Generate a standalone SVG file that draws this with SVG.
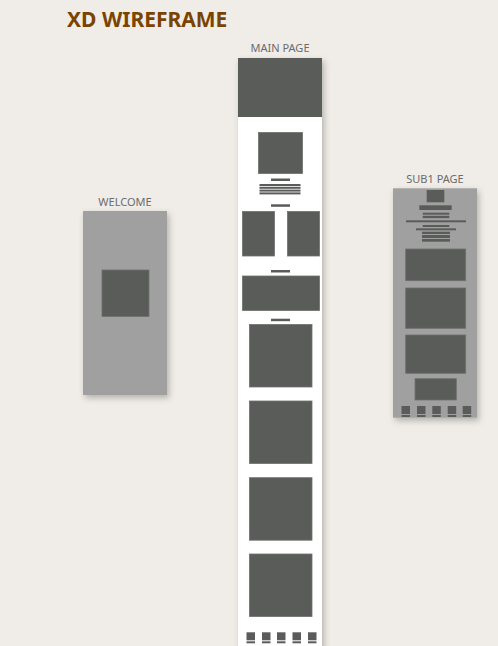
<svg xmlns="http://www.w3.org/2000/svg" width="498" height="646" viewBox="0 0 498 646">
<style>
.bg{fill:#f0ece7}
.lbl{font-family:"Noto Sans","DejaVu Sans",sans-serif;font-size:11px;fill:#6b6b6b;text-anchor:middle}
.title{font-family:"Noto Sans","DejaVu Sans",sans-serif;font-size:21px;font-weight:bold;fill:#7a4300}
.dk{fill:#5a5c5a;stroke:#6e706e;stroke-width:0.8}
.dkf{fill:#5a5c5a}
.gray{fill:#a0a0a0}
.white{fill:#ffffff}
</style>
<defs>
<filter id="sh" x="-20%" y="-10%" width="150%" height="130%">
<feDropShadow dx="2" dy="3" stdDeviation="3" flood-color="#000" flood-opacity="0.25"/>
</filter>
<g id="icon">
<rect x="0" y="0" width="8.5" height="8" class="dkf"/>
<rect x="0" y="9" width="8.5" height="2" class="dkf"/>
</g>
</defs>
<rect class="bg" x="0" y="0" width="498" height="646"/>
<text class="title" x="67" y="27">XD WIREFRAME</text>

<g id="welcome">
<text class="lbl" x="125" y="206">WELCOME</text>
<rect class="gray" x="83" y="211" width="84" height="184" filter="url(#sh)"/>
<rect class="dk" x="102" y="270" width="47" height="46.5"/>
</g>

<g id="main-page">
<text class="lbl" x="280" y="52">MAIN PAGE</text>
<rect class="white" x="238" y="58" width="84" height="600" filter="url(#sh)"/>
<rect class="dkf" x="238" y="58" width="84" height="59"/>
<rect class="dk" x="258.5" y="132.5" width="44" height="41"/>
<rect class="dkf" x="271" y="178.5" width="19" height="2.5"/>
<rect class="dkf" x="259.5" y="184" width="41" height="2"/>
<rect class="dkf" x="259.5" y="186.8" width="41" height="2"/>
<rect class="dkf" x="259.5" y="189.6" width="41" height="2"/>
<rect class="dkf" x="259.5" y="192.4" width="41" height="2"/>
<rect class="dkf" x="271" y="204.3" width="19" height="2.5"/>
<rect class="dk" x="242.5" y="211.5" width="32" height="44.5"/>
<rect class="dk" x="287.5" y="211.5" width="32" height="44.5"/>
<rect class="dkf" x="271" y="270" width="19" height="2.5"/>
<rect class="dk" x="242.5" y="276" width="77" height="34.5"/>
<rect class="dkf" x="271" y="318.7" width="19" height="2.5"/>
<rect class="dk" x="249.5" y="324.5" width="62.5" height="62.5"/>
<rect class="dk" x="249.5" y="401" width="62.5" height="62.5"/>
<rect class="dk" x="249.5" y="477.7" width="62.5" height="62.5"/>
<rect class="dk" x="249.5" y="554" width="62.5" height="62.5"/>
<use href="#icon" x="246.5" y="632.3"/>
<use href="#icon" x="262" y="632.3"/>
<use href="#icon" x="277" y="632.3"/>
<use href="#icon" x="292.5" y="632.3"/>
<use href="#icon" x="308" y="632.3"/>
</g>

<g id="sub1-page">
<text class="lbl" x="435" y="183">SUB1 PAGE</text>
<rect class="gray" x="393" y="188.3" width="84" height="229.4" filter="url(#sh)"/>
<rect class="dkf" x="426.7" y="190" width="17.6" height="12.3"/>
<rect class="dkf" x="419.3" y="205.3" width="32.4" height="4.7"/>
<rect class="dkf" x="422.7" y="212.7" width="26.6" height="2"/>
<rect class="dkf" x="422.7" y="215.8" width="26.6" height="2.3"/>
<rect class="dkf" x="406" y="220.3" width="60" height="2"/>
<rect class="dkf" x="422.7" y="225" width="26.6" height="2"/>
<rect class="dkf" x="416" y="228.3" width="40" height="2"/>
<rect class="dkf" x="422" y="231.7" width="28" height="2.3"/>
<rect class="dkf" x="422" y="235" width="28" height="3"/>
<rect class="dkf" x="422" y="239" width="28" height="2.7"/>
<rect class="dk" x="405.7" y="249" width="60" height="31.7"/>
<rect class="dk" x="405.7" y="288" width="60" height="40.3"/>
<rect class="dk" x="405.7" y="335" width="60" height="38.3"/>
<rect class="dk" x="415" y="378.7" width="41.3" height="21.3"/>
<use href="#icon" x="401.5" y="406"/>
<use href="#icon" x="417" y="406"/>
<use href="#icon" x="432.3" y="406"/>
<use href="#icon" x="447.7" y="406"/>
<use href="#icon" x="462.7" y="406"/>
</g>
</svg>
